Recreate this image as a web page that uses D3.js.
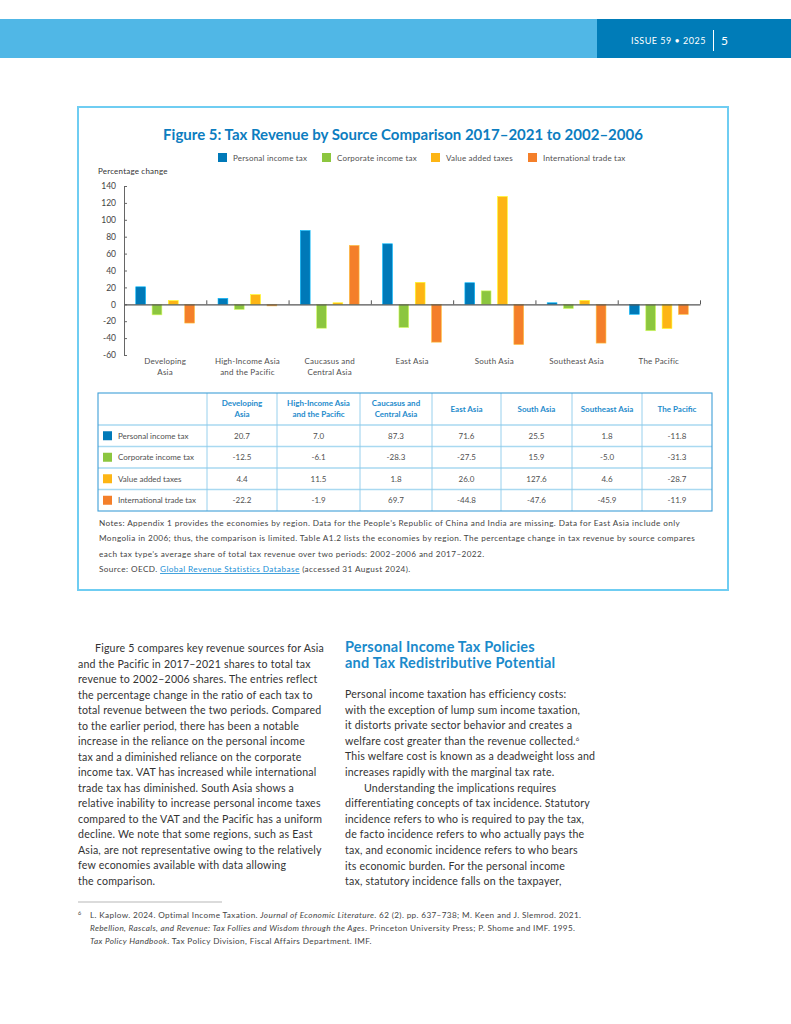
<!DOCTYPE html>
<html>
<head>
<meta charset="utf-8">
<script src="https://cdn.jsdelivr.net/npm/d3@7"></script>
<style>
  html, body { margin: 0; padding: 0; background: #fff; }
  svg text { font-family: Lato, "Open Sans", sans-serif; }
</style>
</head>
<body>
<div id="page"></div>
<script>
// Data
const categories = ["Developing Asia", "High-Income Asia and the Pacific", "Caucasus and Central Asia",
  "East Asia", "South Asia", "Southeast Asia", "The Pacific"];
const categoryLines = [["Developing", "Asia"], ["High-Income Asia", "and the Pacific"], ["Caucasus and", "Central Asia"],
  ["East Asia"], ["South Asia"], ["Southeast Asia"], ["The Pacific"]];
const seriesNames = ["Personal income tax", "Corporate income tax", "Value added taxes", "International trade tax"];
const seriesColors = ["#0079b8", "#8cc63f", "#fdb515", "#f47f2a"];

const personalIncome = [20.7, 7.0, 87.3, 71.6, 25.5, 1.8, -11.8];
const corporateIncome = [-12.5, -6.1, -28.3, -27.5, 15.9, -5.0, -31.3];
const valueAdded = [4.4, 11.5, 1.8, 26.0, 127.6, 4.6, -28.7];
const tradeTax = [-22.2, -1.9, 69.7, -44.8, -47.6, -45.9, -11.9];
const seriesValues = [personalIncome, corporateIncome, valueAdded, tradeTax];

const yTicks = [-60, -40, -20, 0, 20, 40, 60, 80, 100, 120, 140];

const leftColumn = [
  "Figure 5 compares key revenue sources for Asia",
  "and the Pacific in 2017–2021 shares to total tax",
  "revenue to 2002–2006 shares. The entries reflect",
  "the percentage change in the ratio of each tax to",
  "total revenue between the two periods. Compared",
  "to the earlier period, there has been a notable",
  "increase in the reliance on the personal income",
  "tax and a diminished reliance on the corporate",
  "income tax. VAT has increased while international",
  "trade tax has diminished. South Asia shows a",
  "relative inability to increase personal income taxes",
  "compared to the VAT and the Pacific has a uniform",
  "decline. We note that some regions, such as East",
  "Asia, are not representative owing to the relatively",
  "few economies available with data allowing",
  "the comparison."
];
const rightColumn = [
  "Personal income taxation has efficiency costs:",
  "with the exception of lump sum income taxation,",
  "it distorts private sector behavior and creates a",
  "welfare cost greater than the revenue collected.",
  "This welfare cost is known as a deadweight loss and",
  "increases rapidly with the marginal tax rate.",
  "Understanding the implications requires",
  "differentiating concepts of tax incidence. Statutory",
  "incidence refers to who is required to pay the tax,",
  "de facto incidence refers to who actually pays the",
  "tax, and economic incidence refers to who bears",
  "its economic burden. For the personal income",
  "tax, statutory incidence falls on the taxpayer,"
];
const notes = [
  "Notes: Appendix 1 provides the economies by region. Data for the People’s Republic of China and India are missing. Data for East Asia include only",
  "Mongolia in 2006; thus, the comparison is limited. Table A1.2 lists the economies by region. The percentage change in tax revenue by source compares",
  "each tax type’s average share of total tax revenue over two periods: 2002–2006 and 2017–2022."
];
const footnote = [
  [["L. Kaplow. 2024. Optimal Income Taxation. ", false], ["Journal of Economic Literature", true], [". 62 (2). pp. 637–738; M. Keen and J. Slemrod. 2021.", false]],
  [["Rebellion, Rascals, and Revenue: Tax Follies and Wisdom through the Ages", true], [". Princeton University Press; P. Shome and IMF. 1995.", false]],
  [["Tax Policy Handbook", true], [". Tax Policy Division, Fiscal Affairs Department. IMF.", false]]
];

const blue = "#0c7dc0";
const textGrey = "#505050";

const svg = d3.select("#page").append("svg")
  .attr("width", 791)
  .attr("height", 1024);

// Header band
svg.append("rect").attr("x", 0).attr("y", 19).attr("width", 597).attr("height", 39).attr("fill", "#50b7e6");
svg.append("rect").attr("x", 597).attr("y", 19).attr("width", 194).attr("height", 39).attr("fill", "#007cb8");
svg.append("text").attr("x", 706).attr("y", 44).attr("text-anchor", "end")
  .attr("fill", "#fff").style("font-size", "9px").style("letter-spacing", "0.5px").text("ISSUE 59 • 2025");
svg.append("line").attr("x1", 713.5).attr("x2", 713.5).attr("y1", 30).attr("y2", 51)
  .attr("stroke", "#fff").attr("stroke-width", 1);
svg.append("text").attr("x", 721).attr("y", 45)
  .attr("fill", "#fff").style("font-size", "12px").text("5");

// Figure box
svg.append("rect").attr("x", 78).attr("y", 107).attr("width", 650).attr("height", 483)
  .attr("fill", "none").attr("stroke", "#6fcdf2").attr("stroke-width", 2);

svg.append("text").attr("x", 403).attr("y", 140).attr("text-anchor", "middle")
  .attr("fill", blue).style("font-size", "15px").style("font-weight", "bold")
  .text("Figure 5: Tax Revenue by Source Comparison 2017–2021 to 2002–2006");

// Legend
const legendX = [218, 322, 431, 528];
const legend = svg.append("g").selectAll("g")
  .data(seriesNames)
  .join("g")
  .attr("transform", (d, i) => `translate(${legendX[i]},153)`);
legend.append("rect").attr("width", 9).attr("height", 9).attr("fill", (d, i) => seriesColors[i]);
legend.append("text").attr("x", 15).attr("y", 7.5).attr("fill", textGrey)
  .style("font-size", "8px").style("letter-spacing", "0.2px").text(d => d);

svg.append("text").attr("x", 98).attr("y", 174).attr("fill", "#333")
  .style("font-size", "8px").style("letter-spacing", "0.2px").text("Percentage change");

// Scales
const plotLeft = 124, plotRight = 700;
const y = d3.scaleLinear().domain([-60, 140]).range([355, 186]);
const x0 = d3.scaleBand().domain(categories).range([plotLeft, plotRight]).padding(0);
const x1 = d3.scaleBand().domain(seriesNames).range([0, x0.bandwidth()])
  .paddingInner(0.4).paddingOuter(0.72);

// Y axis
const yAxis = svg.append("g")
  .attr("transform", `translate(${plotLeft},0)`)
  .call(d3.axisLeft(y).tickValues(yTicks).tickFormat(d => String(d)).tickSize(-3).tickPadding(8));
yAxis.select(".domain").attr("stroke", "#666");
yAxis.selectAll(".tick line").attr("stroke", "#666");
yAxis.selectAll(".tick text").attr("fill", "#444").style("font-size", "8.5px")
  .style("font-family", "Lato, sans-serif");

// Bars
const barData = [];
categories.forEach((c, ci) => seriesNames.forEach((s, si) => {
  barData.push({ cat: c, series: s, value: seriesValues[si][ci], color: seriesColors[si] });
}));
svg.append("g").selectAll("rect")
  .data(barData)
  .join("rect")
  .attr("x", d => x0(d.cat) + x1(d.series))
  .attr("y", d => y(Math.max(0, d.value)))
  .attr("width", x1.bandwidth())
  .attr("height", d => Math.abs(y(d.value) - y(0)))
  .attr("fill", d => d.color)
  .attr("stroke", d => d3.color(d.color).brighter(1.2))
  .attr("stroke-width", 0.6);

// Zero line with ticks at category edges
const edge = d3.scaleLinear().domain([0, categories.length]).range([plotLeft, plotRight]);
const xAxis = svg.append("g")
  .attr("transform", `translate(0,${y(0)})`)
  .call(d3.axisBottom(edge).tickValues(d3.range(1, categories.length + 1))
    .tickSize(-4).tickSizeOuter(0).tickFormat(""));
xAxis.select(".domain").attr("stroke", "#555").attr("stroke-width", 1.2);
xAxis.selectAll(".tick line").attr("stroke", "#555");

// Category labels
const catLabels = svg.append("g").selectAll("text")
  .data(categories)
  .join("text")
  .attr("x", d => x0(d) + x0.bandwidth() / 2)
  .attr("y", 364)
  .attr("text-anchor", "middle")
  .attr("fill", textGrey)
  .style("font-size", "8px")
  .style("letter-spacing", "0.2px");
catLabels.selectAll("tspan")
  .data((d, i) => categoryLines[i])
  .join("tspan")
  .attr("x", function () { return d3.select(this.parentNode).attr("x"); })
  .attr("dy", (d, i) => i === 0 ? 0 : 11)
  .text(d => d);

// Table
const colEdges = [98, 207, 277, 360, 432, 501, 572, 642, 712];
const rowEdges = [393, 425, 446.5, 468, 489.5, 511];
const table = svg.append("g");
table.selectAll(".hline")
  .data(rowEdges.slice(1, -1))
  .join("line")
  .attr("x1", colEdges[0]).attr("x2", colEdges[colEdges.length - 1])
  .attr("y1", d => d).attr("y2", d => d)
  .attr("stroke", "#a9d9f1").attr("stroke-width", 1.3);
table.selectAll(".vline")
  .data(colEdges.slice(1, -1))
  .join("line")
  .attr("x1", d => d).attr("x2", d => d)
  .attr("y1", rowEdges[0]).attr("y2", rowEdges[rowEdges.length - 1])
  .attr("stroke", "#8ccbeb").attr("stroke-width", 0.9);
table.append("rect")
  .attr("x", colEdges[0]).attr("y", rowEdges[0])
  .attr("width", colEdges[colEdges.length - 1] - colEdges[0])
  .attr("height", rowEdges[rowEdges.length - 1] - rowEdges[0])
  .attr("fill", "none").attr("stroke", "#3f9fd8").attr("stroke-width", 1.1);

// header cells
const headCells = table.selectAll(".head")
  .data(categories)
  .join("text")
  .attr("x", (d, i) => (colEdges[i + 1] + colEdges[i + 2]) / 2)
  .attr("y", (d, i) => categoryLines[i].length > 1 ? 406 : 412)
  .attr("text-anchor", "middle")
  .attr("fill", "#1f8ccc")
  .style("font-size", "8px")
  .style("font-weight", "bold");
headCells.selectAll("tspan")
  .data((d, i) => categoryLines[i])
  .join("tspan")
  .attr("x", function () { return d3.select(this.parentNode).attr("x"); })
  .attr("dy", (d, i) => i === 0 ? 0 : 11)
  .text(d => d);

// body rows
const rows = table.selectAll(".row")
  .data(seriesNames)
  .join("g")
  .attr("transform", (d, i) => `translate(0,${(rowEdges[i + 1] + rowEdges[i + 2]) / 2})`);
rows.append("rect").attr("x", 103).attr("y", -4.5).attr("width", 9).attr("height", 9)
  .attr("fill", (d, i) => seriesColors[i]);
rows.append("text").attr("x", 118).attr("y", 3).attr("fill", textGrey)
  .style("font-size", "8px").text(d => d);
rows.each(function (s, si) {
  d3.select(this).selectAll(".val")
    .data(seriesValues[si])
    .join("text")
    .attr("x", (d, i) => (colEdges[i + 1] + colEdges[i + 2]) / 2)
    .attr("y", 3)
    .attr("text-anchor", "middle")
    .attr("fill", textGrey)
    .style("font-size", "8px")
    .text(d => d.toFixed(1));
});

// Notes
svg.append("g").selectAll("text")
  .data(notes)
  .join("text")
  .attr("x", 99)
  .attr("y", (d, i) => 526 + i * 15.3)
  .attr("fill", "#444")
  .style("font-size", "8.2px")
  .style("letter-spacing", "0.4px")
  .text(d => d);
const source = svg.append("text").attr("x", 99).attr("y", 572)
  .attr("fill", "#444").style("font-size", "8.2px").style("letter-spacing", "0.4px");
source.append("tspan").text("Source: OECD. ");
source.append("tspan").attr("fill", "#1a8fd6").attr("text-decoration", "underline")
  .text("Global Revenue Statistics Database");
source.append("tspan").text(" (accessed 31 August 2024).");

// Body text, left column
svg.append("g").selectAll("text")
  .data(leftColumn)
  .join("text")
  .attr("x", (d, i) => i === 0 ? 95 : 78)
  .attr("y", (d, i) => 652 + i * 15.53)
  .attr("fill", "#333")
  .style("font-size", "10.6px")
  .style("letter-spacing", "0.2px")
  .text(d => d);

// Right column heading
svg.append("g").selectAll("text")
  .data(["Personal Income Tax Policies", "and Tax Redistributive Potential"])
  .join("text")
  .attr("x", 345)
  .attr("y", (d, i) => 652 + i * 15.5)
  .attr("fill", "#1a8acb")
  .style("font-size", "14.5px")
  .style("font-weight", "bold")
  .style("letter-spacing", "0.2px")
  .text(d => d);

const rightText = svg.append("g").selectAll("text")
  .data(rightColumn)
  .join("text")
  .attr("x", (d, i) => i === 6 ? 364 : 345)
  .attr("y", (d, i) => 698 + i * 15.6)
  .attr("fill", "#333")
  .style("font-size", "10.6px")
  .style("letter-spacing", "0.2px")
  .text(d => d);
rightText.filter((d, i) => i === 3).append("tspan")
  .attr("dy", -4).style("font-size", "6px").text("6");

// Footnote
svg.append("line").attr("x1", 78).attr("x2", 222).attr("y1", 902).attr("y2", 902)
  .attr("stroke", "#888").attr("stroke-width", 0.6);
svg.append("text").attr("x", 78).attr("y", 915).attr("fill", "#444")
  .style("font-size", "5.5px").text("6");
const fnLines = svg.append("g").selectAll("text")
  .data(footnote)
  .join("text")
  .attr("x", 90)
  .attr("y", (d, i) => 918 + i * 13)
  .attr("fill", "#444")
  .style("font-size", "8.2px")
  .style("letter-spacing", "0.36px");
fnLines.selectAll("tspan")
  .data(d => d)
  .join("tspan")
  .style("font-style", d => d[1] ? "italic" : "normal")
  .text(d => d[0]);
</script>
</body>
</html>
